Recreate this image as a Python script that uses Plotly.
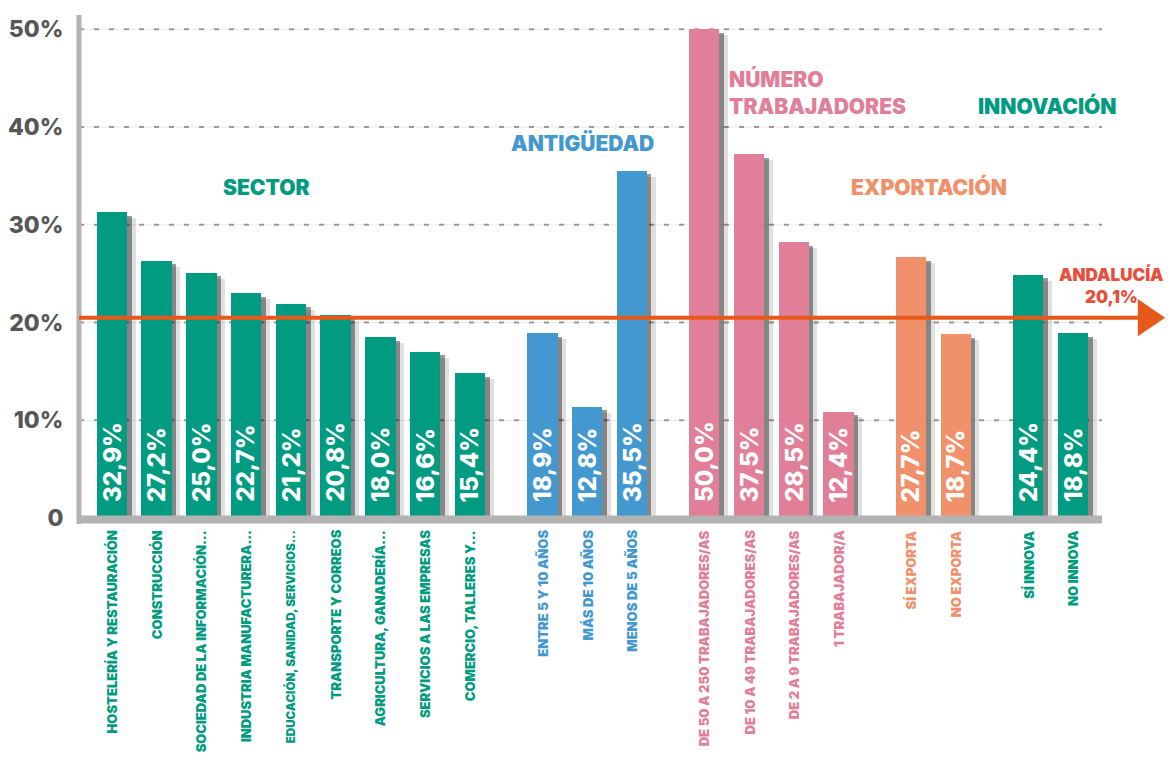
import plotly.graph_objects as go

# alturas de barra tal como se dibujan; etiquetas tal como se imprimen
sector_cats = ["HOSTELERÍA Y RESTAURACIÓN", "CONSTRUCCIÓN", "SOCIEDAD DE LA INFORMACIÓN...",
               "INDUSTRIA MANUFACTURERA...", "EDUCACIÓN, SANIDAD, SERVICIOS...",
               "TRANSPORTE Y CORREOS", "AGRICULTURA, GANADERÍA...",
               "SERVICIOS A LAS EMPRESAS", "COMERCIO, TALLERES Y..."]
sector_vals = [31.3, 26.3, 25.1, 23.0, 21.9, 20.8, 18.5, 17.0, 14.8]
sector_text = ["32,9%", "27,2%", "25,0%", "22,7%", "21,2%", "20,8%", "18,0%", "16,6%", "15,4%"]

antig_cats = ["ENTRE 5 Y 10 AÑOS", "MÁS DE 10 AÑOS", "MENOS DE 5 AÑOS"]
antig_vals = [18.9, 11.4, 35.5]
antig_text = ["18,9%", "12,8%", "35,5%"]

trab_cats = ["DE 50 A 250 TRABAJADORES/AS", "DE 10 A 49 TRABAJADORES/AS",
             "DE 2 A 9 TRABAJADORES/AS", "1 TRABAJADOR/A"]
trab_vals = [50.0, 37.2, 28.2, 10.9]
trab_text = ["50,0%", "37,5%", "28,5%", "12,4%"]

export_cats = ["SÍ EXPORTA", "NO EXPORTA"]
export_vals = [26.7, 18.8]
export_text = ["27,7%", "18,7%"]

innov_cats = ["SÍ INNOVA", "NO INNOVA"]
innov_vals = [24.9, 18.9]
innov_text = ["24,4%", "18,8%"]

andalucia_val = 20.5
andalucia_text = "ANDALUCÍA<br>20,1%"

y_ticks = [0, 10, 20, 30, 40, 50]
y_tick_text = ["0", "10%", "20%", "30%", "40%", "50%"]

GREEN = "#009B80"
BLUE = "#4399CF"
PINK = "#E17F99"
ORANGE = "#F1916B"
LINE = "#E8581A"
FONT = "Inter"

groups = [
    ("SECTOR", sector_cats, sector_vals, sector_text, GREEN),
    ("ANTIGÜEDAD", antig_cats, antig_vals, antig_text, BLUE),
    ("NÚMERO<br>TRABAJADORES", trab_cats, trab_vals, trab_text, PINK),
    ("EXPORTACIÓN", export_cats, export_vals, export_text, ORANGE),
    ("INNOVACIÓN", innov_cats, innov_vals, innov_text, GREEN),
]

GAP = 1.62
xs, vals, texts, cats, colors = [], [], [], [], []
pos = 0.0
for gi, (_, c, v, t, col) in enumerate(groups):
    if gi > 0:
        pos += GAP - 1
    for i in range(len(c)):
        xs.append(pos)
        vals.append(v[i])
        texts.append(t[i])
        cats.append(c[i])
        colors.append(col)
        pos += 1

X_MIN, X_MAX = -0.735, 23.56
Y_MIN, Y_MAX = -0.6, 51.46
BW = 0.68
axis_end = xs[-1] + 0.65

fig = go.Figure()

# sombras
fig.add_trace(go.Bar(x=[x + 0.19 for x in xs], y=[v - 0.6 for v in vals], width=BW,
                     marker=dict(color="rgba(0,0,0,0.12)", line_width=0), hoverinfo="skip"))
fig.add_trace(go.Bar(x=[x + 0.1 for x in xs], y=[v - 0.35 for v in vals], width=BW,
                     marker=dict(color="rgba(0,0,0,0.4)", line_width=0), hoverinfo="skip"))
fig.add_trace(go.Bar(x=xs, y=vals, width=BW, marker=dict(color=colors, line_width=0),
                     hovertext=cats))

shapes = []
for t in y_ticks[1:]:
    shapes.append(dict(type="line", xref="paper", x0=0, x1=(axis_end - X_MIN) / (X_MAX - X_MIN),
                       y0=t, y1=t, line=dict(color="#e8e8e8", width=1), layer="below"))
    shapes.append(dict(type="line", xref="paper", x0=0, x1=(axis_end - X_MIN) / (X_MAX - X_MIN),
                       y0=t, y1=t, line=dict(color="#9a9a9a", width=2, dash="5px,10px"), layer="below"))

# ejes
shapes.append(dict(type="line", xref="paper", x0=0, x1=0, yref="paper", y0=0, y1=1,
                   line=dict(color="#b3b3b3", width=5)))
shapes.append(dict(type="line", x0=X_MIN - 0.06, x1=axis_end, y0=-0.15, y1=-0.15,
                   line=dict(color="#b3b3b3", width=8)))

# línea Andalucía con flecha
head_len = 0.63
head_h = 1.9
shapes.append(dict(type="line", xref="paper", x0=0, x1=(X_MAX - head_len + 0.05 - X_MIN) / (X_MAX - X_MIN),
                   y0=andalucia_val, y1=andalucia_val, line=dict(color=LINE, width=4)))
shapes.append(dict(type="path",
                   path=f"M {X_MAX - head_len} {andalucia_val - head_h} L {X_MAX - 0.02} {andalucia_val} "
                        f"L {X_MAX - head_len} {andalucia_val + head_h} Z",
                   fillcolor=LINE, line=dict(width=0)))

annotations = []
for x, t, c, col in zip(xs, texts, cats, colors):
    annotations.append(dict(x=x, y=0, text=t, textangle=-90, showarrow=False,
                            xanchor="center", yanchor="bottom", yshift=14,
                            font=dict(family=FONT, size=24, color="white", weight=800)))
    # la etiqueta más larga se reduce para que quepa en la página
    size = 13 if len(c) < 30 else 11.6
    annotations.append(dict(x=x, yref="paper", y=0, text=c, textangle=-90, showarrow=False,
                            xanchor="center", yanchor="top", yshift=-4,
                            font=dict(family=FONT, size=size, color=col, weight=900)))

titles = [
    (3.45, 33.8, "center"),
    (10.51, 38.4, "center"),
    (13.74, 43.5, "left"),
    (18.26, 33.9, "center"),
    (20.91, 42.2, "center"),
]
for (tx, ty, anchor), g in zip(titles, groups):
    annotations.append(dict(x=tx, y=ty, text=g[0], showarrow=False, xanchor=anchor,
                            yanchor="middle", align="left",
                            font=dict(family=FONT, size=21, color=g[4], weight=900)))

annotations.append(dict(x=22.34, y=23.75, text=andalucia_text, showarrow=False,
                        xanchor="center", yanchor="middle", align="center",
                        font=dict(family=FONT, size=17, color="#E84E3A", weight=900)))

fig.update_layout(
    width=1158, height=749,
    margin=dict(l=67, r=0, t=7, b=232.6),
    plot_bgcolor="white", paper_bgcolor="white",
    barmode="overlay", bargap=0, showlegend=False,
    shapes=shapes, annotations=annotations,
    xaxis=dict(range=[X_MIN, X_MAX], showgrid=False, zeroline=False, showticklabels=False,
               showline=False),
    yaxis=dict(range=[Y_MIN, Y_MAX], showgrid=False, zeroline=False, showline=False,
               tickvals=y_ticks, ticktext=y_tick_text, ticks="outside", ticklen=10,
               tickcolor="rgba(0,0,0,0)",
               tickfont=dict(family=FONT, size=23, color="#575757", weight=800)),
)

fig.write_html("out.html")
